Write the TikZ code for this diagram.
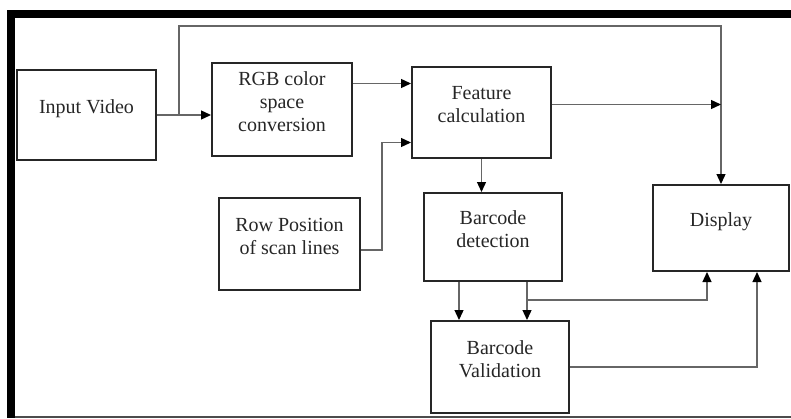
\documentclass[tikz,border=0pt]{standalone}
\usepackage{fontspec}
\setmainfont{Liberation Serif}
\usetikzlibrary{arrows.meta,calc}

\begin{document}
\begin{tikzpicture}[x=1pt,y=-1pt,
  block/.style={draw=black!85,line width=2pt,minimum width=139pt,minimum height=90pt,
    align=center,text=black!85,text depth=16pt,
    font=\fontsize{20}{23}\selectfont},
  arr/.style={draw=black!60,line width=1.3pt,
    -{Triangle[length=10pt,width=9pt,color=black]}}]
\useasboundingbox (0,0) rectangle (791,418);
% frame
\fill (7,10) rectangle (791,18);
\fill (7,10) rectangle (15,418);
\draw[black!70,line width=1.5pt] (15,417) -- (791,417);
% blocks
\node[block] (inp) at (86.5,115) {Input Video};
\node[block,minimum width=140pt,minimum height=93pt] (rgb) at (282,109.5) {RGB color\\space\\conversion};
\node[block,minimum height=91pt] (feat) at (481.5,112.5) {Feature\\calculation};
\node[block,minimum width=141pt,minimum height=92pt] (rowpos) at (289.5,244) {Row Position\\of scan lines};
\node[block,minimum width=138pt,minimum height=88pt] (detect) at (493,237) {Barcode\\detection};
\node[block,minimum width=136pt,minimum height=86pt] (disp) at (721,228) {Display};
\node[block,minimum width=138pt,minimum height=92pt] (valid) at (500,367) {Barcode\\Validation};
% connectors
\coordinate (tap) at (179,115);
\coordinate (top) at (179,26);
\coordinate (join) at ([xshift=34pt,yshift=-18pt]detect.south);
\draw[arr] (inp.east) -- (inp.east -| rgb.west);
\draw[arr] (tap) -- (top) -| (disp.north);
\draw[arr] ([yshift=26pt]rgb.east) -- ([yshift=26pt]rgb.east -| feat.west);
\draw[arr] ([yshift=-6pt]rowpos.east) -- ++(21,0) |- ([yshift=-30pt]feat.west);
\draw[arr] ([yshift=8pt]feat.east) -- ([yshift=8pt]feat.east -| disp.north);
\draw[arr] (feat.south) -- (feat.south |- detect.north);
\draw[arr] ([xshift=-34pt]detect.south) -- ([xshift=-34pt]detect.south |- valid.north);
\draw[arr] ([xshift=34pt]detect.south) -- ([xshift=34pt]detect.south |- valid.north);
\draw[arr] (join) -| ([xshift=-14pt]disp.south);
\draw[arr] (valid.east) -| ([xshift=36pt]disp.south);
\end{tikzpicture}
\end{document}
